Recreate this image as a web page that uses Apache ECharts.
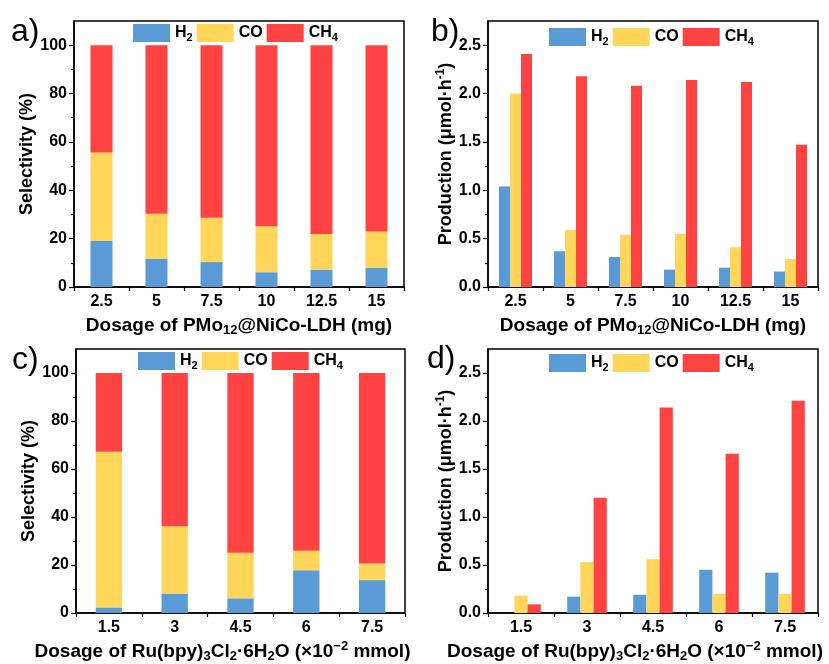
<!DOCTYPE html>
<html><head><meta charset="utf-8">
<script src="https://cdn.jsdelivr.net/npm/echarts@6/dist/echarts.min.js"></script>
<style>html,body{margin:0;padding:0;background:#fff}#c{width:829px;height:664px}</style>
</head><body><div id="c"></div>
<script>
// ---- data ----
const catsPMo = ['2.5', '5', '7.5', '10', '12.5', '15'];
const catsRu = ['1.5', '3', '4.5', '6', '7.5'];
const gasNames = ['H2', 'CO', 'CH4'];

// a) selectivity (%) vs PMo12@NiCo-LDH dosage
const selA_H2 = [19.0, 11.7, 10.3, 6.1, 7.2, 8.0];
const selA_CO = [36.6, 18.6, 18.3, 19.0, 14.7, 15.0];
const selA_CH4 = [44.4, 69.7, 71.4, 74.9, 78.1, 77.0];
// b) production (umol/h) vs PMo12@NiCo-LDH dosage
const prodB_H2 = [1.04, 0.37, 0.31, 0.18, 0.20, 0.16];
const prodB_CO = [2.00, 0.59, 0.54, 0.55, 0.41, 0.29];
const prodB_CH4 = [2.41, 2.18, 2.08, 2.14, 2.12, 1.47];
// c) selectivity (%) vs Ru(bpy)3Cl2 dosage
const selC_H2 = [2.3, 8.1, 6.1, 17.8, 13.7];
const selC_CO = [64.9, 28.0, 19.0, 8.1, 6.9];
const selC_CH4 = [32.8, 63.9, 74.9, 74.1, 79.4];
// d) production (umol/h) vs Ru(bpy)3Cl2 dosage
const prodD_H2 = [0, 0.17, 0.19, 0.45, 0.42];
const prodD_CO = [0.18, 0.53, 0.56, 0.20, 0.20];
const prodD_CH4 = [0.09, 1.20, 2.14, 1.66, 2.21];

// tick values
const selMajor = [0, 20, 40, 60, 80, 100];
const selMinor = [10, 30, 50, 70, 90];
const prodMajor = [0, 0.5, 1.0, 1.5, 2.0, 2.5];
const prodMinor = [0.25, 0.75, 1.25, 1.75, 2.25];

// ---- styling ----
const FONT = '"Liberation Sans", Arial, sans-serif';
const COLORS = { H2: '#5B9BD5', CO: '#FFD55A', CH4: '#FF4242' };
function mkRich(size, sub) {
  return {
    t: { fontSize: size, fontWeight: 'bold', fontFamily: FONT, color: '#000', lineHeight: size + 4 },
    s: { fontSize: sub, fontWeight: 'bold', fontFamily: FONT, color: '#000', lineHeight: sub + 1, verticalAlign: 'bottom' },
    p: { fontSize: sub, fontWeight: 'bold', fontFamily: FONT, color: '#000', lineHeight: sub + 1, verticalAlign: 'top' }
  };
}
const xRich = mkRich(19, 13);
const yRich = mkRich(18, 12);
const legRich = mkRich(16, 11);
const legendLabel = { H2: '{t|H}{s|2}', CO: '{t|CO}', CH4: '{t|CH}{s|4}' };

const grids = [
  { left: 74, top: 21, width: 330, height: 266 },
  { left: 488, top: 21, width: 330, height: 266 },
  { left: 76, top: 349, width: 329, height: 265 },
  { left: 488, top: 349, width: 330, height: 265 }
].map(g => Object.assign(g, { show: true, borderColor: '#000', borderWidth: 1.5, backgroundColor: 'transparent' }));

const nameA = '{t|Dosage of PMo}{s|12}{t|@NiCo-LDH (mg)}';
const nameC = '{t|Dosage of Ru(bpy)}{s|3}{t|Cl}{s|2}{t|·6H}{s|2}{t|O (×10}{p|−2}{t| mmol)}';
const panels = [
  { cats: catsPMo, kind: 'sel', xName: nameA, data: [selA_H2, selA_CO, selA_CH4], shift: 0 },
  { cats: catsPMo, kind: 'prod', xName: nameA, data: [prodB_H2, prodB_CO, prodB_CH4], shift: 0 },
  { cats: catsRu, kind: 'sel', xName: nameC, data: [selC_H2, selC_CO, selC_CH4], shift: 36 },
  { cats: catsRu, kind: 'prod', xName: nameC, data: [prodD_H2, prodD_CO, prodD_CH4], shift: 36 }
];

const xAxis = [], yAxis = [], series = [];
panels.forEach((p, i) => {
  xAxis.push({
    type: 'category', gridIndex: i, data: p.cats,
    axisLine: { lineStyle: { color: '#000', width: 1.5 } },
    axisTick: { show: true, length: 4, lineStyle: { color: '#000', width: 1.2 } },
    axisLabel: { color: '#000', fontSize: 16, fontWeight: 'bold', fontFamily: FONT, margin: 7 },
    name: p.xName, nameLocation: 'middle', nameGap: 27,
    nameTextStyle: { rich: xRich, padding: [0, p.shift, 0, 0] }
  });
  const isSel = p.kind === 'sel';
  yAxis.push({
    type: 'value', gridIndex: i, position: 'left', offset: 0,
    min: 0, max: isSel ? 110 : 2.75,
    splitLine: { show: false },
    axisLine: { show: true, lineStyle: { color: '#000', width: 1.5 } },
    axisTick: { show: true, length: 5, customValues: isSel ? selMajor : prodMajor, lineStyle: { color: '#000', width: 1.2 } },
    axisLabel: {
      color: '#000', fontSize: 16, fontWeight: 'bold', fontFamily: FONT, margin: 7,
      customValues: isSel ? selMajor : prodMajor,
      formatter: v => isSel ? String(v) : v.toFixed(1)
    },
    name: isSel ? '{t|Selectivity (%)}' : '{t|Production (μmol·h}{p|-1}{t|)}',
    nameLocation: 'middle', nameGap: isSel ? 35 : 31,
    nameTextStyle: { rich: yRich }
  });
});
panels.forEach((p, i) => {
  const isSel = p.kind === 'sel';
  yAxis.push({
    type: 'value', gridIndex: i, position: 'left', offset: 0,
    min: 0, max: isSel ? 110 : 2.75, splitLine: { show: false },
    axisLine: { show: false },
    axisTick: { show: true, length: 3, customValues: isSel ? selMinor : prodMinor, lineStyle: { color: '#000', width: 1.2 } },
    axisLabel: { show: false }
  });
});
panels.forEach((p, i) => {
  const isSel = p.kind === 'sel';
  gasNames.forEach((g, k) => {
    const s = {
      name: g, type: 'bar', xAxisIndex: i, yAxisIndex: i,
      data: p.data[k], itemStyle: { color: COLORS[g] }
    };
    if (isSel) { s.stack = 'st' + i; s.barWidth = '40%'; }
    else { s.barWidth = '20%'; s.barGap = '0%'; }
    series.push(s);
  });
});

const legendPos = [[133, 24], [549, 28], [138, 352], [549, 354]];
const legend = legendPos.map(([l, t]) => ({
  data: gasNames, left: l, top: t, padding: 0, icon: 'rect', itemWidth: 37, itemHeight: 18, itemGap: 4,
  formatter: n => legendLabel[n], textStyle: { rich: legRich }, selectedMode: false
}));

const labels = [['a)', 11, 16], ['b)', 431, 16], ['c)', 12, 344], ['d)', 427, 343]];
const graphic = labels.map(([t, x, y]) => ({
  type: 'text', left: x, top: y,
  style: { text: t, fontSize: 32, fontFamily: FONT, fill: '#000' }
}));

const chart = echarts.init(document.getElementById('c'), null, { renderer: 'canvas' });
chart.setOption({
  animation: false, backgroundColor: '#fff',
  grid: grids, xAxis, yAxis, series, legend, graphic
});
</script></body></html>
